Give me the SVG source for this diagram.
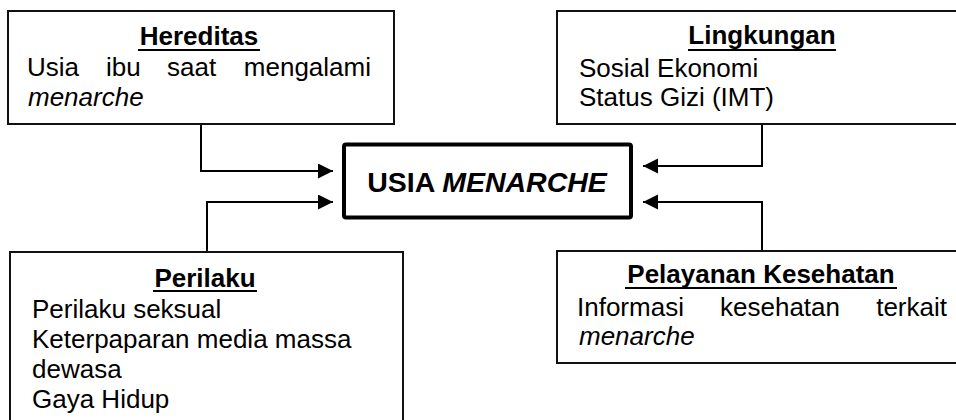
<svg xmlns="http://www.w3.org/2000/svg" width="956" height="420" viewBox="0 0 956 420">
<defs>
<style>
.box{fill:#fff;stroke:#111;stroke-width:2}
.main{fill:#fff;stroke:#000;stroke-width:4}
text{font-family:"Liberation Sans",Arial,sans-serif;font-size:26px;fill:#000}
.t{font-weight:bold;text-anchor:middle}
.i{font-style:italic}
.ul{stroke:#000;stroke-width:2}
.c{fill:none;stroke:#000;stroke-width:2}
</style>
<marker id="ah" markerUnits="userSpaceOnUse" markerWidth="16" markerHeight="16" refX="15" refY="7.5" orient="auto">
<path d="M0,0 L15,7.5 L0,15 Z" fill="#000"/>
</marker>
</defs>
<rect width="956" height="420" fill="#fff"/>

<g id="connectors">
<path class="c" d="M201,124 V171 H333" marker-end="url(#ah)"/>
<path class="c" d="M207,252 V202 H333" marker-end="url(#ah)"/>
<path class="c" d="M762,124 V166 H643" marker-end="url(#ah)"/>
<path class="c" d="M762,251 V202 H643" marker-end="url(#ah)"/>
</g>

<g id="hereditas">
<rect class="box" x="8" y="11" width="386" height="113"/>
<text class="t" x="199" y="45">Hereditas</text>
<line class="ul" x1="138" y1="50" x2="260" y2="50"/>
<text x="27" y="76">Usia</text>
<text x="106" y="76">ibu</text>
<text x="167" y="76">saat</text>
<text x="371" y="76" text-anchor="end">mengalami</text>
<text class="i" x="28" y="106">menarche</text>
</g>

<g id="lingkungan">
<rect class="box" x="557" y="11" width="420" height="113"/>
<text class="t" x="762" y="44">Lingkungan</text>
<line class="ul" x1="688" y1="50" x2="836" y2="50"/>
<text x="579" y="77">Sosial Ekonomi</text>
<text x="579" y="106">Status Gizi (IMT)</text>
</g>

<g id="usia-menarche">
<rect class="main" x="344" y="144.5" width="287" height="73" rx="2"/>
<text x="487" y="192" style="font-size:28.5px;font-weight:bold;text-anchor:middle">USIA <tspan font-style="italic">MENARCHE</tspan></text>
</g>

<g id="perilaku">
<rect class="box" x="10" y="252" width="393" height="200"/>
<text class="t" x="205" y="287">Perilaku</text>
<line class="ul" x1="153" y1="291" x2="257" y2="291"/>
<text x="32" y="318">Perilaku seksual</text>
<text x="32" y="348">Keterpaparan media massa</text>
<text x="32" y="378">dewasa</text>
<text x="32" y="408">Gaya Hidup</text>
</g>

<g id="pelayanan-kesehatan">
<rect class="box" x="557" y="251" width="420" height="112"/>
<text class="t" x="761" y="283">Pelayanan Kesehatan</text>
<line class="ul" x1="625" y1="288" x2="897" y2="288"/>
<text x="577" y="316">Informasi</text>
<text x="720" y="316">kesehatan</text>
<text x="947" y="316" text-anchor="end">terkait</text>
<text class="i" x="579" y="345">menarche</text>
</g>
</svg>
